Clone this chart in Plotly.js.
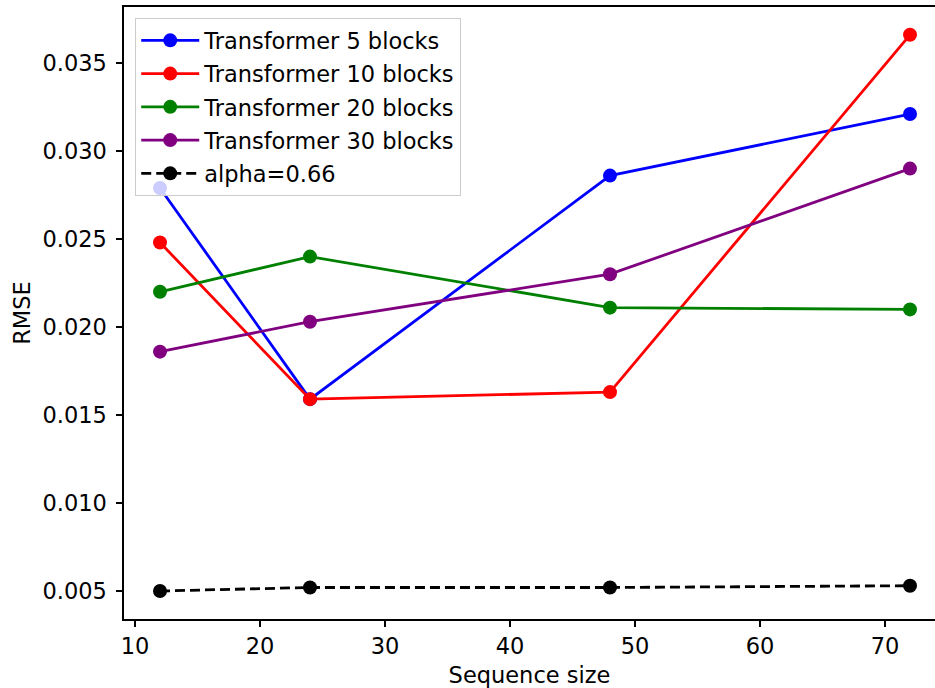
<!DOCTYPE html>
<html>
<head>
<meta charset="utf-8">
<script src="https://cdn.plot.ly/plotly-3.0.1.min.js"></script>
<style>
  html, body { margin: 0; padding: 0; background: #fff; }
  #chart { width: 935px; height: 688px; }
</style>
</head>
<body>
<div id="chart"></div>
<script>
// Sequence sizes tested
const seqSizes = [12, 24, 48, 72];

// RMSE per model configuration
const rmse5Blocks  = [0.0279, 0.0159, 0.0286, 0.0321];
const rmse10Blocks = [0.0248, 0.0159, 0.0163, 0.0366];
const rmse20Blocks = [0.0220, 0.0240, 0.0211, 0.0210];
const rmse30Blocks = [0.0186, 0.0203, 0.0230, 0.0290];
const rmseAlpha    = [0.0050, 0.0052, 0.0052, 0.0053];

const seriesNames = [
  'Transformer 5 blocks',
  'Transformer 10 blocks',
  'Transformer 20 blocks',
  'Transformer 30 blocks',
  'alpha=0.66'
];
const seriesValues = [rmse5Blocks, rmse10Blocks, rmse20Blocks, rmse30Blocks, rmseAlpha];
const seriesColors = ['#0000ff', '#ff0000', '#008000', '#800080', '#000000'];
const seriesDash   = ['solid', 'solid', 'solid', 'solid', '10px,5px'];

const FONT = 'DejaVu Sans, sans-serif';
const FS = 22.5;

const traces = seriesValues.map((vals, i) => ({
  x: seqSizes,
  y: vals,
  name: seriesNames[i],
  type: 'scatter',
  mode: 'lines+markers',
  legendgroup: 'g' + i,
  line: { color: seriesColors[i], width: 2.8, dash: seriesDash[i] },
  marker: { color: seriesColors[i], size: 14 }
}));

const layout = {
  width: 935,
  height: 688,
  margin: { l: 124, r: 0, t: 7, b: 69, pad: 0 },
  paper_bgcolor: '#ffffff',
  plot_bgcolor: '#ffffff',
  font: { family: FONT, size: FS, color: '#000' },
  showlegend: true,
  legend: {
    x: 0.0136,
    y: 0.982,
    xanchor: 'left',
    yanchor: 'top',
    bgcolor: 'rgba(255,255,255,0.8)',
    bordercolor: '#cccccc',
    borderwidth: 1.2,
    font: { family: FONT, size: FS, color: '#000' },
    traceorder: 'grouped',
    tracegroupgap: 1,
    itemwidth: 58
  },
  xaxis: {
    range: [9.12, 74.0],
    tickvals: [10, 20, 30, 40, 50, 60, 70],
    ticks: 'outside',
    ticklen: 6,
    tickwidth: 1.4,
    tickcolor: '#000',
    showline: true,
    linecolor: '#000',
    linewidth: 1.6,
    mirror: true,
    showgrid: false,
    zeroline: false,
    ticklabelstandoff: 0,
    tickfont: { family: FONT, size: FS },
    title: { text: 'Sequence size', font: { family: FONT, size: FS }, standoff: 12 }
  },
  yaxis: {
    range: [0.00341, 0.03818],
    tickvals: [0.005, 0.010, 0.015, 0.020, 0.025, 0.030, 0.035],
    ticktext: ['0.005', '0.010', '0.015', '0.020', '0.025', '0.030', '0.035'],
    ticks: 'outside',
    ticklen: 6,
    tickwidth: 1.4,
    tickcolor: '#000',
    showline: true,
    linecolor: '#000',
    linewidth: 1.6,
    mirror: false,
    showgrid: false,
    zeroline: false,
    ticklabelstandoff: 5,
    tickfont: { family: FONT, size: FS },
    title: { text: 'RMSE', font: { family: FONT, size: FS }, standoff: 5 }
  }
};

Plotly.newPlot('chart', traces, layout, { displayModeBar: false, staticPlot: true });
</script>
</body>
</html>
